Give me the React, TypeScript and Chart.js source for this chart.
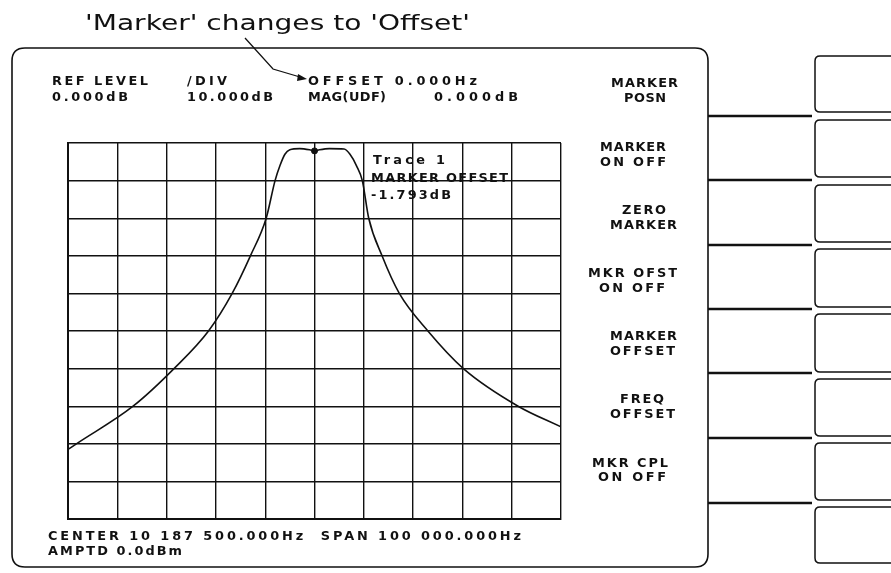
import React, { useEffect, useRef } from "react";
import { Chart, registerables } from "chart.js";

Chart.register(...registerables);

// Frequency offset from centre (kHz) and trace magnitude (dB)
const offsetKHz = [
  -50, -48.3, -36.8, -28.5, -21.5, -16.7, -13, -9.8, -8, -7, -6, -5, -3, -1, 0,
  1, 3, 6, 7.2, 8.5, 9.7, 11, 13.7, 17.2, 23, 30.2, 41.3, 50,
];
const magDb = [
  -81.5, -80, -70, -60, -50, -40, -30, -20, -10, -6, -3, -1.8, -1.5, -1.8, -2.1,
  -1.8, -1.5, -1.6, -3, -6, -10, -20, -30, -40, -50, -60, -70, -75.5,
];
const markerKHz = [0];
const markerDb = [-2.1];

const xMin = -50;
const xMax = 50;
const xStep = 10;
const yMin = -100;
const yMax = 0;
const yStep = 10;

const titleText = "'Marker' changes to 'Offset'";
const headerTexts = ["REF LEVEL", "0.000dB", "/DIV", "10.000dB", "OFFSET 0.000Hz", "MAG(UDF)", "0.000dB"];
const footerTexts = ["CENTER 10 187 500.000Hz  SPAN 100 000.000Hz", "AMPTD 0.0dBm"];
const traceTexts = ["Trace 1", "MARKER OFFSET", "-1.793dB"];
const softkeyLabels = [
  ["MARKER", "POSN"],
  ["MARKER", "ON OFF"],
  ["ZERO", "MARKER"],
  ["MKR OFST", "ON OFF"],
  ["MARKER", "OFFSET"],
  ["FREQ", "OFFSET"],
  ["MKR CPL", "ON OFF"],
];

// layout (pixels)
const headerPos = [
  [52, 85, 96],
  [52, 101, 76],
  [187, 85, 40],
  [187, 101, 86],
  [308, 85, 169],
  [308, 101, 78],
  [434, 101, 84],
];
const footerPos = [
  [48, 540, 473],
  [48, 555, 134],
];
const tracePos = [
  [373, 164, 72],
  [371, 182, 137],
  [371, 199, 80],
];
const softkeyPos = [
  [[611, 87, 67], [624, 102, 42]],
  [[600, 151, 66], [600, 166, 66]],
  [[622, 214, 44], [610, 229, 67]],
  [[588, 277, 89], [599, 292, 66]],
  [[610, 340, 67], [610, 355, 65]],
  [[620, 403, 44], [610, 418, 65]],
  [[592, 467, 76], [598, 481, 68]],
];
const dividerYs = [116, 180, 245, 309, 373, 438, 503];
const buttonYs = [
  [56, 112],
  [120, 177],
  [185, 242],
  [249, 307],
  [314, 372],
  [379, 436],
  [443, 500],
  [507, 563],
];

// draw text to a target width: horizontal stretch, then letter spacing for the rest
function fitText(
  ctx: CanvasRenderingContext2D,
  text: string,
  x: number,
  y: number,
  w: number,
  font: string,
  stretch: number
) {
  ctx.save();
  ctx.font = font;
  ctx.textAlign = "left";
  ctx.textBaseline = "alphabetic";
  const anyCtx = ctx as any;
  const hasLS = "letterSpacing" in anyCtx;
  if (hasLS) anyCtx.letterSpacing = "0px";
  const nat = ctx.measureText(text).width;
  let s = stretch > 0 ? stretch : w / nat;
  ctx.translate(x, y);
  if (hasLS && text.length > 1 && stretch > 0) {
    const ls = (w / s - nat) / (text.length - 1);
    anyCtx.letterSpacing = ls + "px";
  } else {
    s = w / nat;
  }
  ctx.scale(s, 1);
  ctx.fillText(text, 0, 0);
  ctx.restore();
}

function roundRect(ctx: CanvasRenderingContext2D, x: number, y: number, w: number, h: number, r: number) {
  ctx.beginPath();
  ctx.moveTo(x + r, y);
  ctx.lineTo(x + w - r, y);
  ctx.quadraticCurveTo(x + w, y, x + w, y + r);
  ctx.lineTo(x + w, y + h - r);
  ctx.quadraticCurveTo(x + w, y + h, x + w - r, y + h);
  ctx.lineTo(x + r, y + h);
  ctx.quadraticCurveTo(x, y + h, x, y + h - r);
  ctx.lineTo(x, y + r);
  ctx.quadraticCurveTo(x, y, x + r, y);
  ctx.closePath();
}

const panelPlugin = {
  id: "panel",
  beforeDraw(chart: any) {
    const ctx: CanvasRenderingContext2D = chart.ctx;
    ctx.save();
    ctx.fillStyle = "#ffffff";
    ctx.fillRect(0, 0, chart.width, chart.height);
    ctx.restore();
  },
  afterDraw(chart: any) {
    const ctx: CanvasRenderingContext2D = chart.ctx;
    ctx.save();
    ctx.strokeStyle = "#111";
    ctx.fillStyle = "#111";

    // outer screen box
    ctx.lineWidth = 1.6;
    roundRect(ctx, 12, 48, 696, 519, 13);
    ctx.stroke();

    // softkey divider lines
    ctx.lineWidth = 2.6;
    dividerYs.forEach((y) => {
      ctx.beginPath();
      ctx.moveTo(708, y);
      ctx.lineTo(812, y);
      ctx.stroke();
    });

    // softkey buttons
    ctx.lineWidth = 1.5;
    buttonYs.forEach(([t, b]) => {
      roundRect(ctx, 815, t, 110, b - t, 5);
      ctx.stroke();
    });

    // title
    fitText(ctx, titleText, 85, 30, 385, "21px 'DejaVu Sans'", 0);

    // arrow
    ctx.lineWidth = 1.3;
    ctx.beginPath();
    ctx.moveTo(245, 38);
    ctx.lineTo(273, 69);
    ctx.lineTo(300, 77);
    ctx.stroke();
    ctx.beginPath();
    ctx.moveTo(307, 79);
    ctx.lineTo(298, 74);
    ctx.lineTo(297, 81);
    ctx.closePath();
    ctx.fill();

    const screenFont = "bold 11.5px 'DejaVu Sans'";
    const st = 1.12;
    headerTexts.forEach((t, i) => fitText(ctx, t, headerPos[i][0], headerPos[i][1], headerPos[i][2], screenFont, st));
    footerTexts.forEach((t, i) => fitText(ctx, t, footerPos[i][0], footerPos[i][1], footerPos[i][2], screenFont, st));
    traceTexts.forEach((t, i) => fitText(ctx, t, tracePos[i][0], tracePos[i][1], tracePos[i][2], screenFont, st));
    softkeyLabels.forEach((lines, k) =>
      lines.forEach((t, j) => {
        const p = softkeyPos[k][j];
        fitText(ctx, t, p[0], p[1], p[2], screenFont, st);
      })
    );
    ctx.restore();
  },
};

export default function App() {
  const canvasRef = useRef<HTMLCanvasElement | null>(null);

  useEffect(() => {
    const canvas = canvasRef.current;
    if (!canvas) return;
    const trace = offsetKHz.map((x, i) => ({ x, y: magDb[i] }));
    const marker = markerKHz.map((x, i) => ({ x, y: markerDb[i] }));
    const chart = new Chart(canvas, {
      type: "line",
      data: {
        datasets: [
          {
            label: "Trace 1",
            data: trace,
            borderColor: "#111",
            borderWidth: 1.6,
            pointRadius: 0,
            cubicInterpolationMode: "monotone",
            fill: false,
          },
          {
            label: "Marker",
            data: marker,
            borderColor: "#111",
            backgroundColor: "#111",
            pointRadius: 3,
            showLine: false,
          },
        ],
      },
      options: {
        animation: false,
        responsive: false,
        maintainAspectRatio: false,
        devicePixelRatio: 1,
        layout: { padding: { left: 68, top: 143, right: 330, bottom: 54 } },
        plugins: { legend: { display: false }, tooltip: { enabled: false }, title: { display: false } },
        scales: {
          x: {
            type: "linear",
            min: xMin,
            max: xMax,
            ticks: { display: false, stepSize: xStep },
            grid: { color: "#111", lineWidth: 1.4, drawTicks: false },
            border: { display: true, color: "#111", width: 2 },
          },
          y: {
            type: "linear",
            min: yMin,
            max: yMax,
            ticks: { display: false, stepSize: yStep },
            grid: { color: "#111", lineWidth: 1.4, drawTicks: false },
            border: { display: true, color: "#111", width: 2 },
          },
        },
      },
      plugins: [panelPlugin],
    });
    return () => chart.destroy();
  }, []);

  return (
    <div style={{ position: "absolute", left: 0, top: 0, width: 891, height: 573, background: "#fff" }}>
      <canvas ref={canvasRef} width={891} height={573} style={{ display: "block" }} />
    </div>
  );
}
